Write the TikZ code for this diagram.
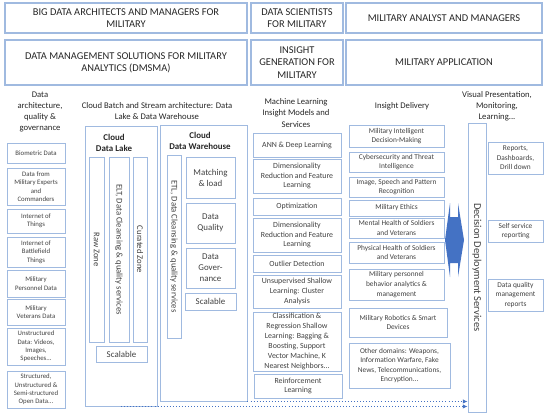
\documentclass[tikz,border=0pt]{standalone}
\usepackage{fontspec}
\setmainfont{Carlito}
\usetikzlibrary{arrows.meta}
\definecolor{boxB}{RGB}{160,186,224}
\definecolor{txtG}{RGB}{64,64,64}
\definecolor{arrB}{RGB}{68,114,196}
\tikzset{
  bx/.style={draw=boxB,line width=0.8pt,align=center,inner sep=1pt,text=txtG},
  hd/.style={bx,line width=1pt,font=\fontsize{8.9}{10.4}\selectfont,text=black!85},
  sz/.style 2 args={minimum width=#1*0.03cm,minimum height=#2*0.03cm},
  colhd/.style={align=center,inner sep=0pt,text=black!85,font=\fontsize{7.4}{9.6}\selectfont},
  dbx/.style={bx,font=\fontsize{5.8}{7.2}\selectfont},
  mlbx/.style={bx,font=\fontsize{6.7}{8.4}\selectfont},
  ibx/.style={bx,font=\fontsize{6.3}{8.2}\selectfont},
  wbx/.style={bx,font=\fontsize{7.6}{9.4}\selectfont},
  vbx/.style={bx,rotate=-90,font=\fontsize{7.4}{8}\selectfont},
  ttl/.style={align=center,inner sep=0pt,text=black!85,font=\bfseries\fontsize{7.6}{10}\selectfont},
  flow/.style={arrB,dotted,line width=0.6pt,-{Latex[length=1.4mm,width=1.3mm]}}
}
\begin{document}
\begin{tikzpicture}[x=0.03cm,y=-0.03cm]
\useasboundingbox (0,0) rectangle (550,418);
% role and layer headers
\node[hd,sz={242}{30}] (rolA) at (126,18) {BIG DATA ARCHITECTS AND MANAGERS FOR\\MILITARY};
\node[hd,sz={92}{30}] (rolB) at (297,18) {DATA SCIENTISTS\\FOR MILITARY};
\node[hd,sz={196}{30}] (rolC) at (444,18) {MILITARY ANALYST AND MANAGERS};
\node[hd,sz={242}{45}] (layA) at (126,62.5) {DATA MANAGEMENT SOLUTIONS FOR MILITARY\\ANALYTICS (DMSMA)};
\node[hd,sz={92}{45}] (layB) at (297,62.5) {INSIGHT\\GENERATION FOR\\MILITARY};
\node[hd,sz={196}{45}] (layC) at (444,62.5) {MILITARY APPLICATION};
% column titles
\node[colhd] (hdA) at (40,112) {Data\\architecture,\\quality \&\\governance};
\node[colhd] (hdB) at (157,111) {Cloud Batch and Stream architecture: Data\\Lake \& Data Warehouse};
\node[colhd] (hdC) at (296,113) {Machine Learning\\Insight Models and\\Services};
\node[colhd] (hdD) at (402,106) {Insight Delivery};
\node[colhd] (hdE) at (497,106) {Visual Presentation,\\Monitoring,\\Learning...};
% data sources
\node[dbx,sz={58}{20}] (src1) at (36,153) {Biometric Data};
\node[dbx,sz={58}{37}] (src2) at (36,186.5) {Data from\\Military Experts\\and\\Commanders};
\node[dbx,sz={58}{24}] (src3) at (36,221) {Internet of\\Things};
\node[dbx,sz={58}{30}] (src4) at (36,252) {Internet of\\Battlefield\\Things};
\node[dbx,sz={58}{27}] (src5) at (36,283.5) {Military\\Personnel Data};
\node[dbx,sz={58}{26}] (src6) at (36,312) {Military\\Veterans Data};
\node[dbx,sz={58}{37}] (src7) at (36,346.5) {Unstructured\\Data: Videos,\\Images,\\Speeches...};
\node[dbx,sz={58}{37}] (src8) at (36,389.5) {Structured,\\Unstructured \&\\Semi-structured\\Open Data...};
% data lake
\node[bx,sz={72}{280}] (lake) at (121,266) {};
\node[ttl] (lakettl) at (114,143) {Cloud\\Data Lake};
\node[vbx,sz={185}{15}] (raw) at (96.5,249.5) {Raw Zone};
\node[vbx,sz={185}{20}] (elt) at (119,249.5) {ELT, Data Cleansing \& quality services};
\node[vbx,sz={185}{14}] (cur) at (140,249.5) {Curated Zone};
\node[wbx,sz={51}{16}] (lakescl) at (121.5,354) {Scalable};
% data warehouse
\node[bx,sz={87}{276}] (wh) at (203.5,263) {};
\node[ttl] (whttl) at (200,141) {Cloud\\Data Warehouse};
\node[vbx,sz={183}{14}] (etl) at (174,246.5) {ETL, Data Cleansing \& quality services};
\node[wbx,sz={49}{41}] (match) at (210.5,177.5) {Matching\\\& load};
\node[wbx,sz={49}{40}] (dqual) at (210.5,223) {Data\\Quality};
\node[wbx,sz={49}{40}] (dgov) at (210.5,268) {Data\\Gover-\\nance};
\node[wbx,sz={51}{17}] (whscl) at (210.5,301.5) {Scalable};
% ML models
\node[mlbx,sz={88}{24}] (ml1) at (297,145) {ANN \& Deep Learning};
\node[mlbx,sz={88}{34}] (ml2) at (297,176) {Dimensionality\\Reduction and Feature\\Learning};
\node[mlbx,sz={88}{17}] (ml3) at (297,206.5) {Optimization};
\node[mlbx,sz={88}{34}] (ml4) at (297,235) {Dimensionality\\Reduction and Feature\\Learning};
\node[mlbx,sz={88}{17}] (ml5) at (297,263.5) {Outlier Detection};
\node[mlbx,sz={88}{33}] (ml6) at (297,291.5) {Unsupervised Shallow\\Learning: Cluster\\Analysis};
\node[mlbx,sz={88}{59}] (ml7) at (297,341.5) {Classification \&\\Regression Shallow\\Learning: Bagging \&\\Boosting, Support\\Vector Machine, K\\Nearest Neighbors...};
\node[mlbx,sz={88}{24}] (ml8) at (298,386) {Reinforcement\\Learning};
% insight delivery
\node[ibx,sz={95}{22}] (ins1) at (396.5,136) {Military Intelligent\\Decision-Making};
\node[ibx,sz={95}{20}] (ins2) at (396.5,162) {Cybersecurity and Threat\\Intelligence};
\node[ibx,sz={95}{20}] (ins3) at (396.5,187) {Image, Speech and Pattern\\Recognition};
\node[ibx,sz={95}{16}] (ins4) at (396.5,208) {Military Ethics};
\node[ibx,sz={95}{20}] (ins5) at (396.5,228) {Mental Health of Soldiers\\and Veterans};
\node[ibx,sz={95}{21}] (ins6) at (396.5,252.5) {Physical Health of Soldiers\\and Veterans};
\node[ibx,sz={95}{31}] (ins7) at (396.5,284.5) {Military personnel\\behavior analytics \&\\management};
\node[ibx,sz={98}{29}] (ins8) at (398,322.5) {Military Robotics \& Smart\\Devices};
\node[ibx,sz={101}{45}] (ins9) at (399.5,365.5) {Other domains: Weapons,\\Information Warfare, Fake\\News, Telecommunications,\\Encryption...};
% two-way arrow
\fill[arrB] (445,240)--(450,203)--(450,217)--(458,217)--(458,203)--(464,240)--(458,277)--(458,263)--(450,263)--(450,277)--cycle;
% deployment and outputs
\node[bx,rotate=-90,sz={289}{18},font=\fontsize{9}{10}\selectfont] (dds) at (477,267.5) {Decision Deployment Services};
\node[ibx,sz={55}{32}] (out1) at (515.5,158) {Reports,\\Dashboards,\\Drill down};
\node[ibx,sz={55}{22}] (out2) at (515.5,231) {Self service\\reporting};
\node[ibx,sz={55}{32}] (out3) at (515.5,295) {Data quality\\management\\reports};
\draw[flow] (wh.south east) -- (wh.south east -| dds.south);
\draw[flow] (lake.south) -- (lake.south -| dds.south);
\end{tikzpicture}
\end{document}
